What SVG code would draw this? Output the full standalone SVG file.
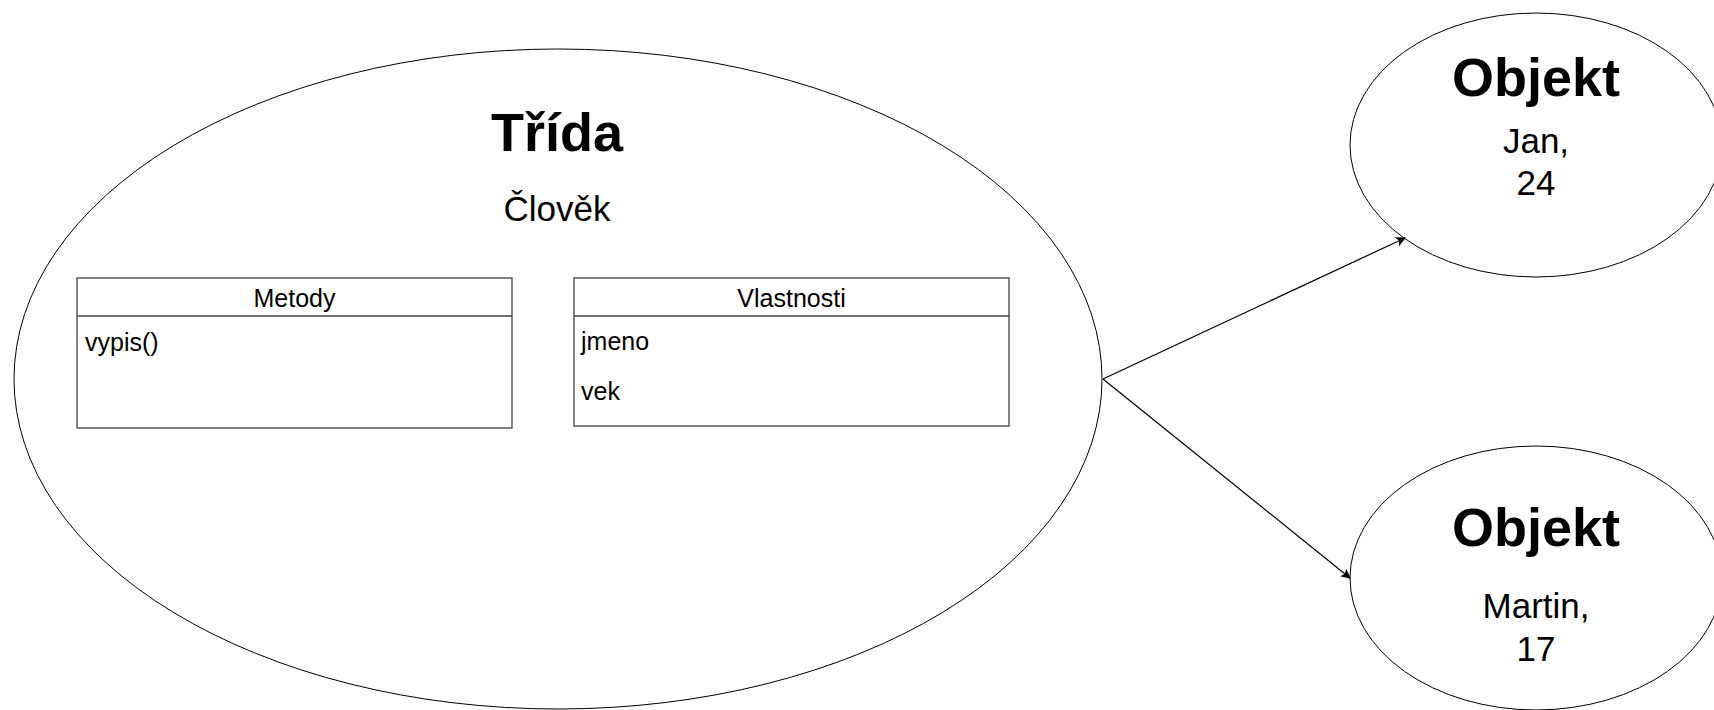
<svg xmlns="http://www.w3.org/2000/svg" width="1714" height="710" viewBox="0 0 1714 710">
<style>
  .shape { fill: #ffffff; stroke: #000000; stroke-width: 1; }
  .box { fill: #ffffff; stroke: #404040; stroke-width: 1.3; }
  .sep { stroke: #404040; stroke-width: 1.3; }
  .title { font-family: "Liberation Sans", Arial, sans-serif; font-weight: bold; font-size: 54px; fill: #000; text-anchor: middle; }
  .sub { font-family: "Liberation Sans", Arial, sans-serif; font-size: 35px; fill: #000; text-anchor: middle; }
  .hdr { font-family: "Liberation Sans", Arial, sans-serif; font-size: 25px; fill: #000; text-anchor: middle; }
  .item { font-family: "Liberation Sans", Arial, sans-serif; font-size: 25px; fill: #000; }
  .edge { fill: none; stroke: #000000; stroke-width: 1.2; }
</style>
<defs>
  <marker id="arrow" viewBox="0 0 10 10" refX="9" refY="5" markerWidth="10" markerHeight="10" markerUnits="userSpaceOnUse" orient="auto">
    <path d="M0,0 L10,5 L0,10 L2.5,5 Z" fill="#000"/>
  </marker>
</defs>
<rect width="1714" height="710" fill="#ffffff"/>
<g id="trida">
  <ellipse class="shape" cx="558" cy="379" rx="544" ry="330"/>
  <text class="title" x="557" y="151">Třída</text>
  <text class="sub" x="557" y="221">Člověk</text>
</g>
<g id="metody">
  <rect class="box" x="77" y="278" width="435" height="150"/>
  <line class="sep" x1="77" y1="316" x2="512" y2="316"/>
  <text class="hdr" x="294.5" y="307">Metody</text>
  <text class="item" x="85" y="351">vypis()</text>
</g>
<g id="vlastnosti">
  <rect class="box" x="574" y="278" width="435" height="148"/>
  <line class="sep" x1="574" y1="316" x2="1009" y2="316"/>
  <text class="hdr" x="791.5" y="307">Vlastnosti</text>
  <text class="item" x="581" y="350">jmeno</text>
  <text class="item" x="581" y="400">vek</text>
</g>
<g id="objekt1">
  <ellipse class="shape" cx="1536" cy="145" rx="186" ry="132"/>
  <text class="title" x="1536" y="96">Objekt</text>
  <text class="sub" x="1536" y="153">Jan,</text>
  <text class="sub" x="1536" y="195">24</text>
</g>
<g id="objekt2">
  <ellipse class="shape" cx="1536" cy="578" rx="186" ry="132"/>
  <text class="title" x="1536" y="546">Objekt</text>
  <text class="sub" x="1536" y="618">Martin,</text>
  <text class="sub" x="1536" y="661">17</text>
</g>
<g id="connectors">
  <line class="edge" x1="1103" y1="379" x2="1405" y2="238" marker-end="url(#arrow)"/>
  <line class="edge" x1="1103" y1="379" x2="1350" y2="578" marker-end="url(#arrow)"/>
</g>
</svg>
